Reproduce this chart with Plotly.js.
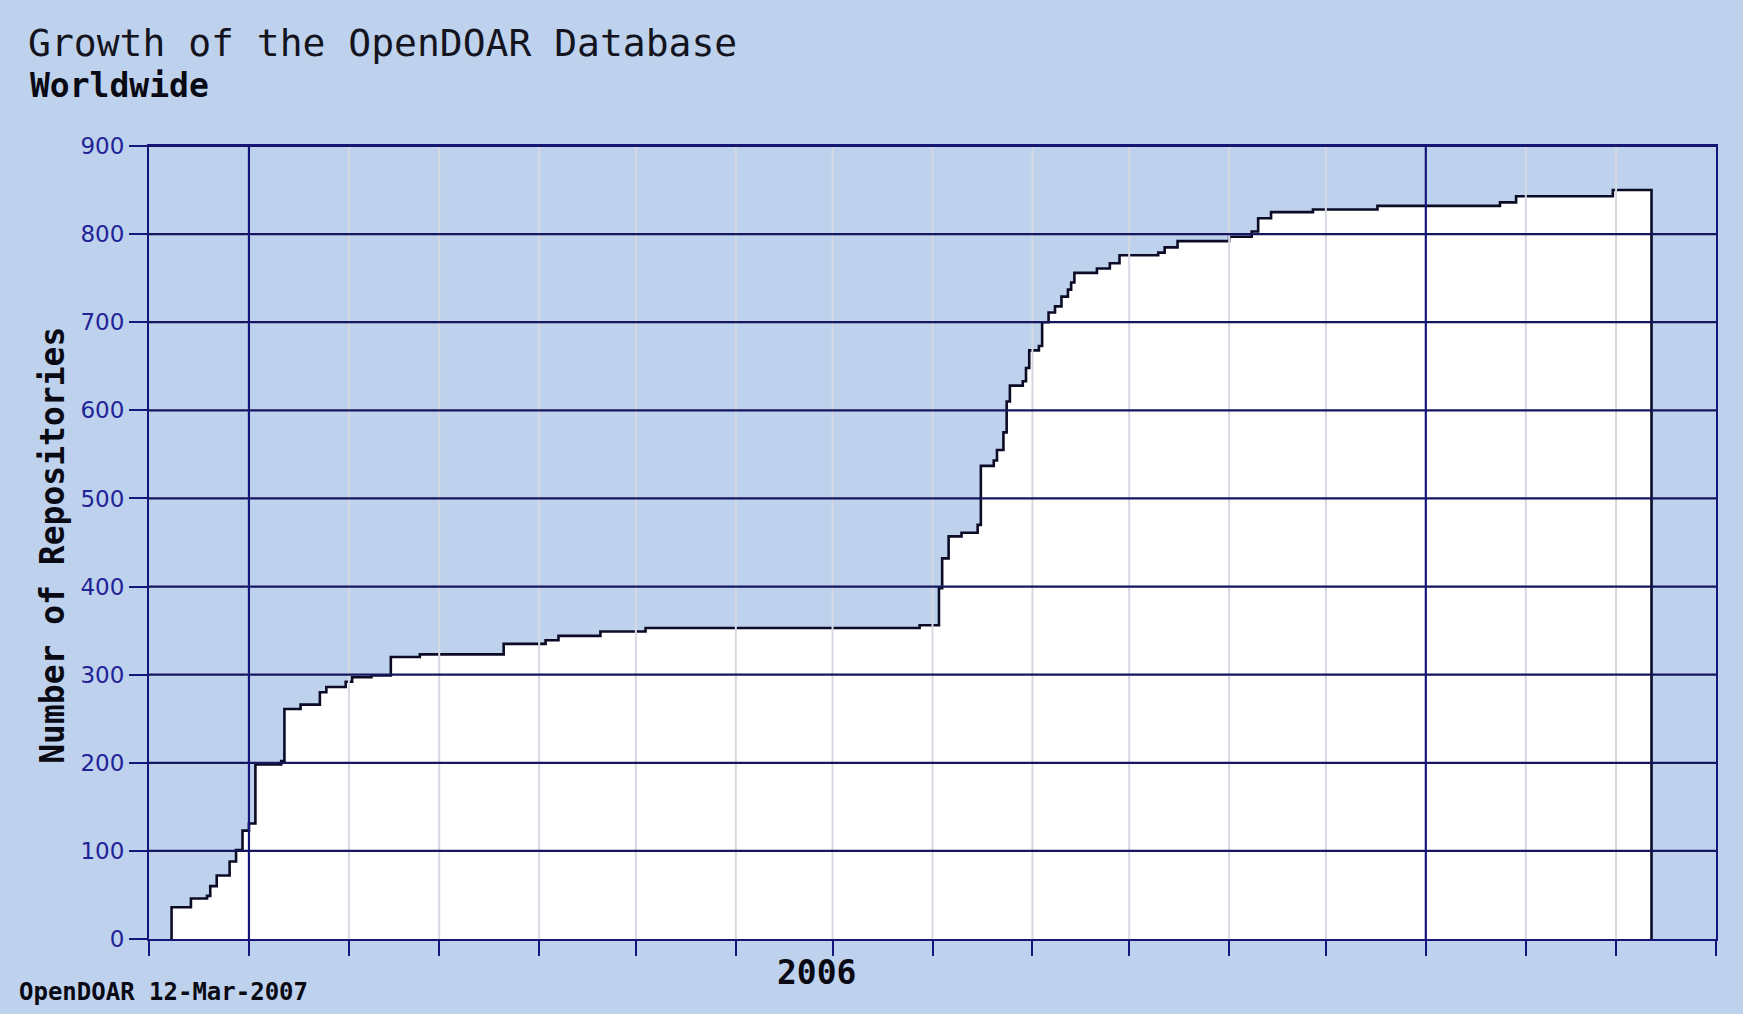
<!DOCTYPE html>
<html>
<head>
<meta charset="utf-8">
<script src="https://cdn.plot.ly/plotly-3.0.1.min.js"></script>
<style>
  html, body { margin: 0; padding: 0; background: #bed2ee; }
  #chart { width: 1743px; height: 1014px; }
</style>
</head>
<body>
<div id="chart"></div>
<script>
// ---- Data ----
const dates = [
  '2005-12-08','2005-12-14','2005-12-19','2005-12-20','2005-12-22','2005-12-26','2005-12-28','2005-12-30',
  '2006-01-01','2006-01-03','2006-01-11','2006-01-12','2006-01-17','2006-01-23','2006-01-25','2006-01-31',
  '2006-02-02','2006-02-08','2006-02-14','2006-02-23','2006-03-21','2006-04-03','2006-04-07','2006-04-20',
  '2006-05-04','2006-07-28','2006-08-03','2006-08-04','2006-08-06','2006-08-10','2006-08-15','2006-08-16',
  '2006-08-20','2006-08-21','2006-08-23','2006-08-24','2006-08-25','2006-08-29','2006-08-30','2006-08-31',
  '2006-09-03','2006-09-04','2006-09-06','2006-09-08','2006-09-10','2006-09-12','2006-09-13','2006-09-14',
  '2006-09-21','2006-09-25','2006-09-28','2006-10-10','2006-10-12','2006-10-16','2006-11-01','2006-11-08',
  '2006-11-10','2006-11-14','2006-11-27','2006-12-17','2007-01-24','2007-01-29','2007-02-28','2007-03-12'
];
const counts = [
  36, 46, 49, 60, 72, 88, 101, 123,
  131, 198, 202, 261, 266, 280, 286, 292,
  297, 299, 320, 323, 335, 339, 344, 349,
  353, 356, 398, 432, 457, 461, 470, 537,
  543, 555, 575, 610, 628, 633, 648, 668,
  673, 700, 711, 718, 729, 737, 745, 756,
  761, 767, 776, 779, 785, 792, 797, 803,
  818, 825, 828, 832, 836, 843, 850, 850
];
const monthStarts = [
  '2005-12-01','2006-01-01','2006-02-01','2006-03-01','2006-04-01','2006-05-01','2006-06-01',
  '2006-07-01','2006-08-01','2006-09-01','2006-10-01','2006-11-01','2006-12-01',
  '2007-01-01','2007-02-01','2007-03-01','2007-04-01'
];
const yearStarts = ['2006-01-01', '2007-01-01'];
const yearLabels = ['2006'];
const yearLabelDates = ['2006-06-26'];
const yTicks = [0, 100, 200, 300, 400, 500, 600, 700, 800, 900];

const chartTitle = 'Growth of the OpenDOAR Database';
const chartSubtitle = 'Worldwide';
const yTitle = 'Number of Repositories';
const footer = 'OpenDOAR 12-Mar-2007';

// ---- Styles ----
const BG = '#bed2ee';
const NAVY = '#15157a';
const GRIDNAVY = '#16165e';
const MONTHGRAY = '#d6d9e2';
const MONO = 'DejaVu Sans Mono, Liberation Mono, monospace';

// closed outline built from the data: rise from zero at the start, drop to zero at the end
const xs = [dates[0]].concat(dates, [dates[dates.length - 1]]);
const ys = [0].concat(counts, [0]);

const trace = {
  type: 'scatter',
  mode: 'lines',
  x: xs,
  y: ys,
  line: { shape: 'hv', color: '#0b0b26', width: 2.6 },
  fill: 'tozeroy',
  fillcolor: '#ffffff',
  hoverinfo: 'x+y',
  showlegend: false
};

const shapes = [];
monthStarts.forEach(d => {
  if (yearStarts.includes(d) || d === monthStarts[0] || d === monthStarts[monthStarts.length - 1]) return;
  shapes.push({ type: 'line', layer: 'above', xref: 'x', yref: 'paper', x0: d, x1: d, y0: 0, y1: 1,
    line: { color: MONTHGRAY, width: 2 } });
});
yTicks.forEach(v => {
  if (v === 0) return;
  shapes.push({ type: 'line', layer: 'above', xref: 'paper', yref: 'y', x0: 0, x1: 1, y0: v, y1: v,
    line: { color: GRIDNAVY, width: 2.2 } });
});
yearStarts.forEach(d => {
  shapes.push({ type: 'line', layer: 'above', xref: 'x', yref: 'paper', x0: d, x1: d, y0: 0, y1: 1,
    line: { color: NAVY, width: 2.2 } });
});

const annotations = [
  { text: chartSubtitle, xref: 'paper', yref: 'paper', x: -0.0772, y: 1.0763, xanchor: 'left', yanchor: 'middle',
    showarrow: false, font: { family: MONO, size: 33, color: '#0a0a14', weight: 'bold' } },
  { text: yTitle, xref: 'paper', yref: 'paper', x: -0.0613, y: 0.497, xanchor: 'center', yanchor: 'middle',
    textangle: -90, showarrow: false, font: { family: MONO, size: 33, color: '#0a0a14', weight: 'bold' } },
  { text: footer, xref: 'paper', yref: 'paper', x: -0.0842, y: -0.0668, xanchor: 'left', yanchor: 'middle',
    showarrow: false, font: { family: MONO, size: 24, color: '#0a0a14', weight: 'bold' } }
];
yearLabels.forEach((lab, i) => {
  annotations.push({ text: lab, xref: 'x', yref: 'paper', x: yearLabelDates[i], y: 0, yshift: -33,
    xanchor: 'center', yanchor: 'middle', showarrow: false,
    font: { family: MONO, size: 33, color: '#0a0a14', weight: 'bold' } });
});

const layout = {
  width: 1743,
  height: 1014,
  paper_bgcolor: BG,
  plot_bgcolor: BG,
  margin: { l: 149, r: 27, t: 146, b: 75, pad: 0 },
  title: {
    text: chartTitle,
    xref: 'container', yref: 'container',
    x: 28 / 1743, xanchor: 'left',
    y: 1 - 42.5 / 1014, yanchor: 'middle',
    font: { family: MONO, size: 38, color: '#141420' }
  },
  xaxis: {
    type: 'date',
    range: [monthStarts[0], monthStarts[monthStarts.length - 1]],
    tickmode: 'array',
    tickvals: monthStarts,
    ticktext: monthStarts.map(() => ''),
    ticks: 'outside', ticklen: 15, tickwidth: 2, tickcolor: NAVY,
    showgrid: false, zeroline: false,
    showline: true, linecolor: NAVY, linewidth: 2, mirror: true,
    fixedrange: true
  },
  yaxis: {
    range: [0, 900],
    tickmode: 'array',
    tickvals: yTicks,
    ticktext: yTicks.map(String),
    ticks: 'outside', ticklen: 18, tickwidth: 2, tickcolor: NAVY,
    tickfont: { family: 'DejaVu Sans, Verdana, sans-serif', size: 23, color: '#1e2396' },
    showgrid: false, zeroline: false,
    showline: true, linecolor: NAVY, linewidth: 2, mirror: true,
    fixedrange: true
  },
  shapes: shapes,
  annotations: annotations,
  showlegend: false
};

Plotly.newPlot('chart', [trace], layout, { displayModeBar: false, staticPlot: true });
</script>
</body>
</html>
